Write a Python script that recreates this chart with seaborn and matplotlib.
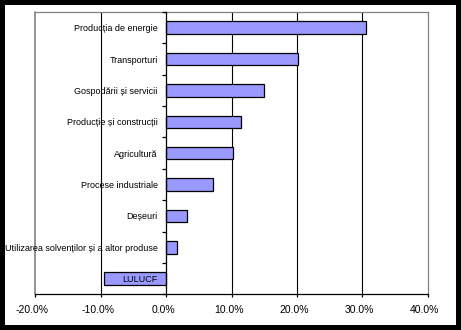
import matplotlib
matplotlib.use("Agg")
import matplotlib.pyplot as plt
import matplotlib.patches as mpatches
from matplotlib.transforms import ScaledTranslation
from matplotlib.ticker import FixedLocator, FuncFormatter, MultipleLocator
import seaborn as sns
import pandas as pd

categories = [
    "Producția de energie",
    "Transporturi",
    "Gospodării și servicii",
    "Producție și construcții",
    "Agricultură",
    "Procese industriale",
    "Deșeuri",
    "Utilizarea solvenților și a altor produse",
    "LULUCF",
]
shares = [30.6, 20.2, 14.9, 11.5, 10.3, 7.1, 3.2, 1.7, -9.5]
x_ticks = [-20, -10, 0, 10, 20, 30, 40]

sns.set_theme(style="white")
plt.rcParams["font.family"] = ["Liberation Sans", "DejaVu Sans"]

df = pd.DataFrame({"categorie": categories, "pondere": shares})

fig = plt.figure(figsize=(4.61, 3.30), dpi=100, facecolor="black")
# white page inside the black frame
fig.patches.append(mpatches.Rectangle((5 / 461, 5 / 330), 451 / 461, 320 / 330,
                                      transform=fig.transFigure, facecolor="white",
                                      edgecolor="none", zorder=-10))
ax = fig.add_axes([0.0766, 0.1082, 0.8512, 0.8554])
ax.set_facecolor("white")

sns.barplot(data=df, x="pondere", y="categorie", orient="h", ax=ax,
            color="#9999FF", saturation=1, width=0.4,
            edgecolor="black", linewidth=0.9)

ax.set_xlim(x_ticks[0], x_ticks[-1])
ax.set_ylim(len(categories) - 0.5, -0.5)
ax.xaxis.set_major_locator(FixedLocator(x_ticks))
ax.xaxis.set_major_formatter(FuncFormatter(lambda v, p: f"{v:.1f}%"))
ax.set_xlabel("")
ax.set_ylabel("")

# vertical gridlines behind bars, category axis text above them
ax.grid(axis="x", color="black", linewidth=0.8)
ax.grid(axis="y", visible=False)
for gl, v in zip(ax.xaxis.get_gridlines(), x_ticks):
    if v in (x_ticks[0], x_ticks[-1], 0):
        gl.set_visible(False)
ax.xaxis.set_zorder(0.5)
ax.yaxis.set_zorder(3)

# category axis sits at zero
ax.spines["left"].set_position(("data", 0))
ax.spines["left"].set_color("black")
ax.spines["left"].set_linewidth(0.9)
ax.spines["left"].set_zorder(2.6)
for s in ("top", "right"):
    ax.spines[s].set_color("#808080")
    ax.spines[s].set_linewidth(0.9)
ax.spines["bottom"].set_color("black")
ax.spines["bottom"].set_linewidth(0.9)
ax.axvline(x_ticks[0], color="#808080", linewidth=1.2, clip_on=False, zorder=2.5)

ax.yaxis.set_minor_locator(MultipleLocator(1, offset=0.5))
ax.tick_params(axis="y", which="major", length=0, pad=6, labelsize=6.5,
               labelcolor="black")
ax.tick_params(axis="y", which="minor", left=True, length=3, width=0.9,
               color="black", direction="out")
ax.tick_params(axis="x", which="major", bottom=True, length=2.5, width=0.9,
               color="black", direction="out", pad=5, labelsize=7.5,
               labelcolor="black")

# percentage labels sit slightly left of their ticks
shift = ScaledTranslation(-3 / 100, 0, fig.dpi_scale_trans)
for lbl in ax.get_xticklabels():
    lbl.set_transform(lbl.get_transform() + shift)

fig.savefig("out.png", dpi=100, facecolor="black")
